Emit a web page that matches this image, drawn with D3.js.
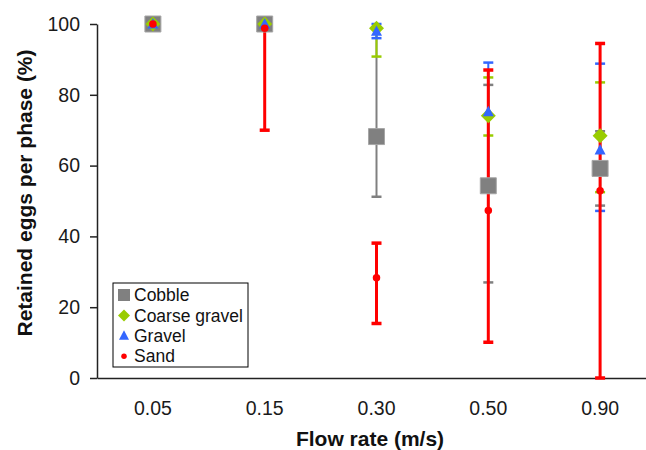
<!DOCTYPE html>
<html>
<head>
<meta charset="utf-8">
<script src="https://cdn.jsdelivr.net/npm/d3@7"></script>
<style>
  body { margin: 0; background: #fff; }
  svg { display: block; font-family: "Liberation Sans", Arial, sans-serif; }
</style>
</head>
<body>
<div id="svg-container"></div>
<script>
////////////////////////////////////////////////////////////////////
////////////////////////////  Data  ////////////////////////////////
const flowRates = ["0.05", "0.15", "0.30", "0.50", "0.90"];
const yTicks = [0, 20, 40, 60, 80, 100];

// mean, lower and upper end of each error bar (values > 100 get clipped, no cap)
const cobbleMean = [100, 100, 68.2, 54.3, 59.2];
const cobbleLow = [100, 100, 51.2, 27.0, 48.7];
const cobbleHigh = [100, 100, 110, 82.8, 69.7];

const coarseMean = [100, 100, 98.8, 74.1, 68.4];
const coarseLow = [100, 100, 90.8, 68.5, 52.5];
const coarseHigh = [100, 100, 106.8, 84.9, 83.5];

const gravelMean = [100, 100, 97.9, 75.2, 64.4];
const gravelLow = [100, 100, 96.0, 55.0, 47.2];
const gravelHigh = [100, 100, 100, 89.1, 88.8];

const sandMean = [100, 98.8, 28.3, 47.3, 52.9];
const sandLow = [100, 70.0, 15.4, 10.1, 0];
const sandHigh = [100, 127.6, 38.1, 87.0, 94.5];

const seriesNames = ["Cobble", "Coarse gravel", "Gravel", "Sand"];
const seriesColors = ["#808080", "#99cc00", "#3366ff", "#ff0000"];

////////////////////////////////////////////////////////////////////
////////////////////////////  Init  ////////////////////////////////
const width = 646;
const height = 450;
const margin = { top: 24, right: -10, bottom: 72, left: 97 };

const svg = d3.select("#svg-container").append("svg")
  .attr("width", width)
  .attr("height", height);

const xScale = d3.scaleBand()
  .domain(flowRates)
  .range([margin.left, width - margin.right]);

const yScale = d3.scaleLinear()
  .domain([0, 100])
  .range([height - margin.bottom, margin.top]);

const series = seriesNames.map((name, i) => ({
  name,
  color: seriesColors[i],
  shape: ["square", "diamond", "triangle", "circle"][i],
  lineWidth: i === 3 ? 3 : 2,
  values: flowRates.map((f, j) => ({
    f,
    mean: [cobbleMean, coarseMean, gravelMean, sandMean][i][j],
    low: [cobbleLow, coarseLow, gravelLow, sandLow][i][j],
    high: [cobbleHigh, coarseHigh, gravelHigh, sandHigh][i][j]
  }))
}));

// marker shapes
function markerPath(shape, s) {
  const p = d3.path();
  if (shape === "square") {
    p.rect(-s / 2, -s / 2, s, s);
  } else if (shape === "diamond") {
    p.moveTo(0, -s / 2); p.lineTo(s / 2, 0); p.lineTo(0, s / 2); p.lineTo(-s / 2, 0); p.closePath();
  } else if (shape === "triangle") {
    p.moveTo(0, -s * 0.55); p.lineTo(s / 2, s * 0.4); p.lineTo(-s / 2, s * 0.4); p.closePath();
  } else {
    p.arc(0, 0, s / 2, 0, 2 * Math.PI);
  }
  return p.toString();
}
const markerSize = { square: 16, diamond: 15, triangle: 11, circle: 7.5 };
const legendSize = { square: 12, diamond: 12, triangle: 10, circle: 5.5 };

const cx = (d) => xScale(d.f) + xScale.bandwidth() / 2;
const clip = (v) => Math.max(0, Math.min(100, v));

////////////////////////////////////////////////////////////////////
////////////////////////////  Axes  ////////////////////////////////
const yAxis = d3.axisLeft(yScale)
  .tickValues(yTicks)
  .tickSize(7)
  .tickSizeOuter(0)
  .tickPadding(10);

const gy = svg.append("g")
  .attr("transform", `translate(${margin.left},0)`)
  .call(yAxis);
gy.selectAll("text").attr("font-size", 19.5).attr("fill", "#1a1a1a").attr("font-family", null);
gy.selectAll("line, path").attr("stroke", "#222").attr("stroke-width", 1.5);

const xAxis = d3.axisBottom(xScale).tickSize(0).tickSizeOuter(0).tickPadding(23);
const gx = svg.append("g")
  .attr("transform", `translate(0,${height - margin.bottom})`)
  .call(xAxis);
gx.selectAll("text").attr("font-size", 19.5).attr("fill", "#1a1a1a").attr("font-family", null);
gx.select(".domain").attr("stroke", "#222").attr("stroke-width", 1.5);

svg.append("text")
  .attr("x", 370)
  .attr("y", 446)
  .attr("text-anchor", "middle")
  .attr("font-size", 21)
  .attr("font-weight", "bold")
  .attr("fill", "#111")
  .text("Flow rate (m/s)");

svg.append("text")
  .attr("transform", "translate(32,193) rotate(-90)")
  .attr("text-anchor", "middle")
  .attr("font-size", 21)
  .attr("font-weight", "bold")
  .attr("fill", "#111")
  .text("Retained eggs per phase (%)");

////////////////////////////////////////////////////////////////////
////////////////////////////  Error bars  //////////////////////////
const capW = 10;
series.forEach((s) => {
  const g = svg.append("g").attr("class", "err");
  const vals = s.values.filter((d) => d.low !== d.high);
  g.selectAll("line.stem").data(vals).join("line")
    .attr("x1", cx).attr("x2", cx)
    .attr("y1", (d) => yScale(clip(d.low)))
    .attr("y2", (d) => yScale(clip(d.high)))
    .attr("stroke", s.color)
    .attr("stroke-width", s.lineWidth);
  const caps = [];
  vals.forEach((d) => {
    if (d.low >= 0 && d.low <= 100) caps.push({ f: d.f, v: d.low });
    if (d.high >= 0 && d.high <= 100) caps.push({ f: d.f, v: d.high });
  });
  g.selectAll("line.cap").data(caps).join("line")
    .attr("x1", (d) => cx(d) - capW / 2)
    .attr("x2", (d) => cx(d) + capW / 2)
    .attr("y1", (d) => yScale(d.v))
    .attr("y2", (d) => yScale(d.v))
    .attr("stroke", s.color)
    .attr("stroke-width", s.lineWidth + 0.5);
});

////////////////////////////////////////////////////////////////////
////////////////////////////  Markers  /////////////////////////////
series.forEach((s) => {
  svg.append("g").selectAll("path").data(s.values).join("path")
    .attr("transform", (d) => `translate(${cx(d)},${yScale(d.mean)})`)
    .attr("d", markerPath(s.shape, markerSize[s.shape]))
    .attr("fill", s.color)
    .attr("stroke", s.shape === "square" ? "#a6a6a6" : "none")
    .attr("stroke-width", 1);
});

////////////////////////////////////////////////////////////////////
////////////////////////////  Legend  //////////////////////////////
const legend = svg.append("g").attr("transform", "translate(113,283)");
legend.append("rect")
  .attr("width", 135).attr("height", 84)
  .attr("fill", "#fff").attr("stroke", "#000").attr("stroke-width", 1);

const item = legend.selectAll("g.item").data(series).join("g")
  .attr("transform", (d, i) => `translate(11,${12 + i * 20.4})`);
item.append("path")
  .attr("d", (d) => markerPath(d.shape, legendSize[d.shape]))
  .attr("fill", (d) => d.color);
item.append("text")
  .attr("x", 10)
  .attr("dy", "0.35em")
  .attr("font-size", 17.5)
  .attr("fill", "#111")
  .text((d) => d.name);
</script>
</body>
</html>
